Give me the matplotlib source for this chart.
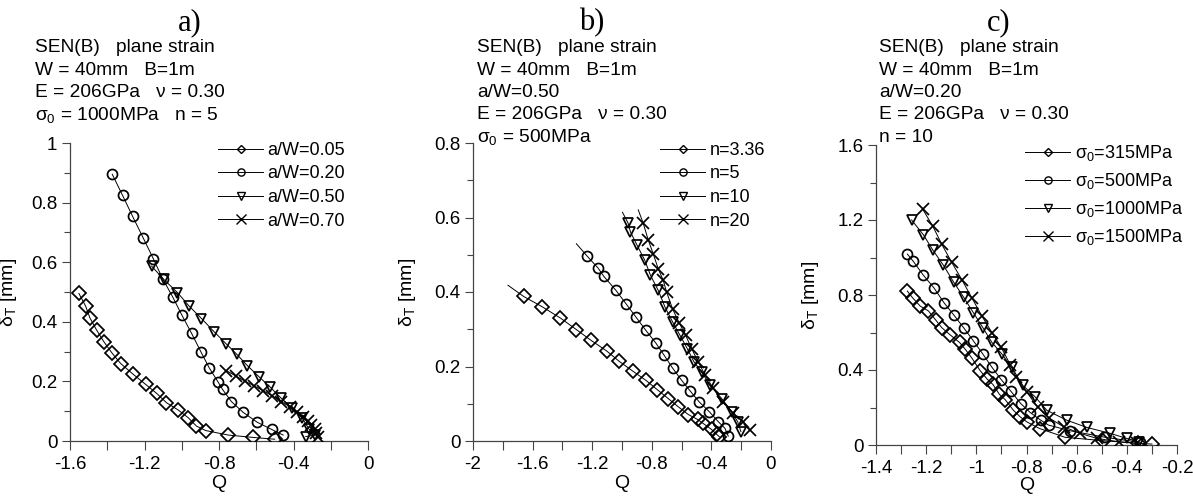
import matplotlib
matplotlib.use("Agg")
import matplotlib.pyplot as plt
from matplotlib.lines import Line2D
from matplotlib.ticker import MultipleLocator

plt.rcParams["font.family"] = ["Liberation Sans", "DejaVu Sans"]
plt.rcParams["mathtext.fontset"] = "custom"
plt.rcParams["mathtext.rm"] = "Liberation Sans"
plt.rcParams["mathtext.it"] = "Liberation Sans"
plt.rcParams["mathtext.default"] = "regular"

# ---- panel a: a/W variation ----
a_labels = ["a/W=0.05", "a/W=0.20", "a/W=0.50", "a/W=0.70"]
a_q_005 = [-1.552, -1.516, -1.493, -1.457, -1.418, -1.373, -1.328, -1.260, -1.194, -1.135,
           -1.082, -1.019, -0.965, -0.921, -0.871, -0.751, -0.617, -0.501]
a_d_005 = [0.495, 0.4525, 0.413, 0.372, 0.333, 0.294, 0.260, 0.2235, 0.190, 0.160,
           0.1285, 0.104, 0.078, 0.050, 0.035, 0.020, 0.012, 0.006]
a_q_020 = [-1.373, -1.318, -1.264, -1.207, -1.153, -1.103, -1.049, -0.999, -0.947, -0.897,
           -0.853, -0.804, -0.781, -0.733, -0.670, -0.595, -0.518, -0.456]
a_d_020 = [0.895, 0.8245, 0.754, 0.6815, 0.612, 0.545, 0.484, 0.422, 0.361, 0.299,
           0.246, 0.197, 0.173, 0.132, 0.096, 0.063, 0.039, 0.020]
a_q_050 = [-1.162, -1.096, -1.023, -0.960, -0.894, -0.826, -0.763, -0.706, -0.647, -0.585,
           -0.524, -0.465, -0.406, -0.352, -0.316, -0.286, -0.334]
a_d_050 = [0.587, 0.542, 0.498, 0.4525, 0.411, 0.3665, 0.327, 0.292, 0.2525, 0.2155,
           0.180, 0.143, 0.1095, 0.076, 0.039, 0.020, 0.015]
a_q_070 = [-0.760, -0.710, -0.661, -0.613, -0.563, -0.513, -0.465, -0.420, -0.379, -0.349,
           -0.322, -0.304, -0.286, -0.277, -0.268]
a_d_070 = [0.236, 0.218, 0.201, 0.1855, 0.169, 0.151, 0.132, 0.115, 0.098, 0.0815,
           0.068, 0.054, 0.039, 0.026, 0.0145]

# ---- panel b: n variation ----
b_labels = ["n=3.36", "n=5", "n=10", "n=20"]
b_q_336 = [-1.660, -1.534, -1.413, -1.306, -1.209, -1.104, -1.019, -0.929, -0.840, -0.764,
           -0.690, -0.623, -0.555, -0.493, -0.455, -0.399, -0.365, -0.347]
b_d_336 = [0.388, 0.360, 0.330, 0.299, 0.2705, 0.242, 0.214, 0.188, 0.163, 0.138,
           0.114, 0.092, 0.071, 0.058, 0.047, 0.031, 0.018, 0.0116]
b_q_5 = [-1.232, -1.160, -1.122, -1.041, -0.974, -0.907, -0.840, -0.773, -0.717, -0.661,
         -0.600, -0.544, -0.482, -0.414, -0.354, -0.309, -0.287]
b_d_5 = [0.4955, 0.464, 0.442, 0.4045, 0.369, 0.333, 0.297, 0.263, 0.230, 0.196,
         0.163, 0.135, 0.105, 0.0786, 0.052, 0.034, 0.013]
b_q_10 = [-0.959, -0.943, -0.898, -0.847, -0.809, -0.757, -0.712, -0.661, -0.611, -0.562,
          -0.517, -0.466, -0.410, -0.331, -0.264, -0.224, -0.202]
b_d_10 = [0.585, 0.561, 0.525, 0.485, 0.445, 0.4045, 0.360, 0.320, 0.284, 0.248,
          0.2125, 0.186, 0.150, 0.114, 0.0786, 0.052, 0.025]
b_q_20 = [-0.858, -0.824, -0.791, -0.757, -0.723, -0.701, -0.661, -0.616, -0.573, -0.533,
          -0.488, -0.443, -0.387, -0.325, -0.253, -0.186, -0.141]
b_d_20 = [0.585, 0.540, 0.503, 0.4625, 0.431, 0.400, 0.355, 0.317, 0.284, 0.248,
          0.2125, 0.177, 0.141, 0.105, 0.074, 0.052, 0.029]
# fitted curves in b run a little past the first point
b_line_start_q = [-1.765, -1.306, -0.997, -0.891]
b_line_start_d = [0.418, 0.5295, 0.614, 0.6205]

# ---- panel c: sigma0 variation ----
c_labels = ["σ$_0$=315MPa", "σ$_0$=500MPa", "σ$_0$=1000MPa", "σ$_0$=1500MPa"]
c_q_315 = [-1.275, -1.254, -1.224, -1.191, -1.161, -1.138, -1.105, -1.067, -1.045, -1.018,
           -0.985, -0.958, -0.934, -0.908, -0.885, -0.852, -0.825, -0.799, -0.748, -0.646,
           -0.495, -0.357, -0.300]
c_d_315 = [0.8206, 0.785, 0.741, 0.715, 0.665, 0.626, 0.588, 0.547, 0.512, 0.464,
           0.397, 0.353, 0.323, 0.270, 0.242, 0.185, 0.150, 0.1235, 0.088, 0.041,
           0.023, 0.009, 0.005]
c_q_500 = [-1.275, -1.251, -1.211, -1.169, -1.129, -1.089, -1.051, -1.012, -0.974, -0.938,
           -0.901, -0.863, -0.823, -0.785, -0.743, -0.712, -0.626, -0.486, -0.346]
c_d_500 = [1.018, 0.979, 0.905, 0.838, 0.759, 0.692, 0.626, 0.556, 0.485, 0.415,
           0.349, 0.288, 0.221, 0.173, 0.132, 0.106, 0.076, 0.041, 0.014]
c_q_1000 = [-1.258, -1.211, -1.174, -1.131, -1.091, -1.051, -1.012, -0.974, -0.938, -0.898,
            -0.859, -0.815, -0.765, -0.719, -0.639, -0.559, -0.466, -0.400, -0.353]
c_d_1000 = [1.200, 1.121, 1.041, 0.958, 0.870, 0.789, 0.706, 0.626, 0.547, 0.485,
            0.415, 0.318, 0.256, 0.185, 0.132, 0.0935, 0.062, 0.035, 0.0176]
c_q_1500 = [-1.214, -1.174, -1.138, -1.098, -1.058, -1.018, -0.978, -0.938, -0.901, -0.865,
            -0.841, -0.799, -0.756, -0.712, -0.652, -0.586, -0.519, -0.433, -0.360]
c_d_1500 = [1.258, 1.168, 1.071, 0.974, 0.882, 0.785, 0.688, 0.600, 0.521, 0.429,
            0.362, 0.282, 0.203, 0.146, 0.097, 0.062, 0.035, 0.0176, 0.009]

a_info = ["SEN(B)   plane strain", "W = 40mm   B=1m", "E = 206GPa   ν = 0.30",
          "σ$_0$ = 1000MPa   n = 5"]
b_info = ["SEN(B)   plane strain", "W = 40mm   B=1m", "a/W=0.50", "E = 206GPa   ν = 0.30",
          "σ$_0$ = 500MPa"]
c_info = ["SEN(B)   plane strain", "W = 40mm   B=1m", "a/W=0.20", "E = 206GPa   ν = 0.30",
          "n = 10"]

markers = ["D", "o", "v", "x"]
msizes = [7.0, 7.2, 7.8, 8.8]
leg_msizes = [4.2, 5.2, 5.2, 7.0]

W, H = 1193, 497
fig = plt.figure(figsize=(W / 100, H / 100), dpi=100)


def px_axes(left, top, right, bottom):
    return fig.add_axes([left / W, 1 - bottom / H, (right - left) / W, (bottom - top) / H])


def style(ax, xlim, ylim, xmaj, ymaj):
    ax.set_xlim(*xlim)
    ax.set_ylim(*ylim)
    ax.xaxis.set_major_locator(MultipleLocator(xmaj))
    ax.xaxis.set_minor_locator(MultipleLocator(xmaj / 2))
    ax.yaxis.set_major_locator(MultipleLocator(ymaj))
    ax.yaxis.set_minor_locator(MultipleLocator(ymaj / 2))
    for s in ["top", "right"]:
        ax.spines[s].set_visible(False)
    for s in ["left", "bottom"]:
        ax.spines[s].set_linewidth(0.9)
        ax.spines[s].set_color("#444444")
    ax.tick_params(axis="both", which="both", direction="out", color="#444444",
                   width=0.8, labelsize=13.5)
    ax.tick_params(axis="x", which="both", length=6.5, pad=4)
    ax.tick_params(axis="y", which="major", length=6, pad=3)
    ax.tick_params(axis="y", which="minor", length=4)
    ax.set_xlabel("Q", fontsize=14)
    ax.set_ylabel(r"$\delta_T$ [mm]", fontsize=14)
    ax.patch.set_alpha(0)


def draw_series(ax, qs, ds, lines=None):
    for i, (q, d) in enumerate(zip(qs, ds)):
        lq, ld = (q, d) if lines is None else lines[i]
        ax.plot(lq, ld, color="black", linewidth=0.7, zorder=2)
        ax.plot(q, d, linestyle="none", marker=markers[i], markersize=msizes[i],
                markerfacecolor="none", markeredgecolor="black", markeredgewidth=1.25,
                zorder=3)


def legend(ax, labels, x0, y0, spacing):
    handles = [Line2D([0], [0], color="black", linewidth=0.7, marker=markers[i],
                      markersize=leg_msizes[i], markerfacecolor="none",
                      markeredgecolor="black", markeredgewidth=1.0)
               for i in range(4)]
    ax.legend(handles, labels, loc="upper left", bbox_to_anchor=(x0 / W, 1 - y0 / H),
              bbox_transform=fig.transFigure, frameon=False, fontsize=13,
              handlelength=2.5, handletextpad=0.25, labelspacing=spacing,
              borderaxespad=0, borderpad=0)


def info(lines, x0, y0):
    for k, t in enumerate(lines):
        fig.text(x0 / W, 1 - (y0 + 22.3 * k) / H, t, fontsize=13.75, va="center", ha="left")


def title(x, s):
    fig.text(x / W, 1 - 23 / H, s, fontsize=22, family="Liberation Serif",
             ha="center", va="center")


# panel a
ax_a = px_axes(70, 143, 368, 441)
style(ax_a, (-1.6, 0), (0, 1), 0.4, 0.2)
draw_series(ax_a, [a_q_005, a_q_020, a_q_050, a_q_070],
            [a_d_005, a_d_020, a_d_050, a_d_070])
legend(ax_a, a_labels, 218, 142, 0.36)
ax_a.yaxis.set_label_coords(-0.17, 0.5)
ax_a.xaxis.set_label_coords(0.5, -0.114)
ax_a.set_yticks([0, 0.2, 0.4, 0.6, 0.8, 1.0], ["0", "0.2", "0.4", "0.6", "0.8", "1"])
ax_a.set_xticks([-1.6, -1.2, -0.8, -0.4, 0], ["-1.6", "-1.2", "-0.8", "-0.4", "0"])
info(a_info, 35, 48)
title(190, "a)")

# panel b
ax_b = px_axes(473, 143, 771, 441)
style(ax_b, (-2, 0), (0, 0.8), 0.4, 0.2)
b_qs = [b_q_336, b_q_5, b_q_10, b_q_20]
b_ds = [b_d_336, b_d_5, b_d_10, b_d_20]
b_lines = [([b_line_start_q[i]] + b_qs[i], [b_line_start_d[i]] + b_ds[i]) for i in range(4)]
draw_series(ax_b, b_qs, b_ds, b_lines)
legend(ax_b, b_labels, 660, 142, 0.36)
ax_b.yaxis.set_label_coords(-0.183, 0.5)
ax_b.xaxis.set_label_coords(0.5, -0.114)
ax_b.set_yticks([0, 0.2, 0.4, 0.6, 0.8], ["0", "0.2", "0.4", "0.6", "0.8"])
ax_b.set_xticks([-2, -1.6, -1.2, -0.8, -0.4, 0], ["-2", "-1.6", "-1.2", "-0.8", "-0.4", "0"])
info(b_info, 477, 48)
title(592, "b)")

# panel c
ax_c = px_axes(876, 145, 1177, 445)
style(ax_c, (-1.4, -0.2), (0, 1.6), 0.2, 0.4)
ax_c.xaxis.set_minor_locator(MultipleLocator(0.1))
ax_c.yaxis.set_minor_locator(MultipleLocator(0.2))
draw_series(ax_c, [c_q_315, c_q_500, c_q_1000, c_q_1500],
            [c_d_315, c_d_500, c_d_1000, c_d_1500])
legend(ax_c, c_labels, 1025, 143, 0.44)
ax_c.yaxis.set_label_coords(-0.183, 0.5)
ax_c.xaxis.set_label_coords(0.5, -0.108)
ax_c.set_yticks([0, 0.4, 0.8, 1.2, 1.6], ["0", "0.4", "0.8", "1.2", "1.6"])
ax_c.set_xticks([-1.4, -1.2, -1.0, -0.8, -0.6, -0.4, -0.2],
                ["-1.4", "-1.2", "-1", "-0.8", "-0.6", "-0.4", "-0.2"])
info(c_info, 879, 48)
title(999, "c)")

fig.savefig("out.png", dpi=100)
